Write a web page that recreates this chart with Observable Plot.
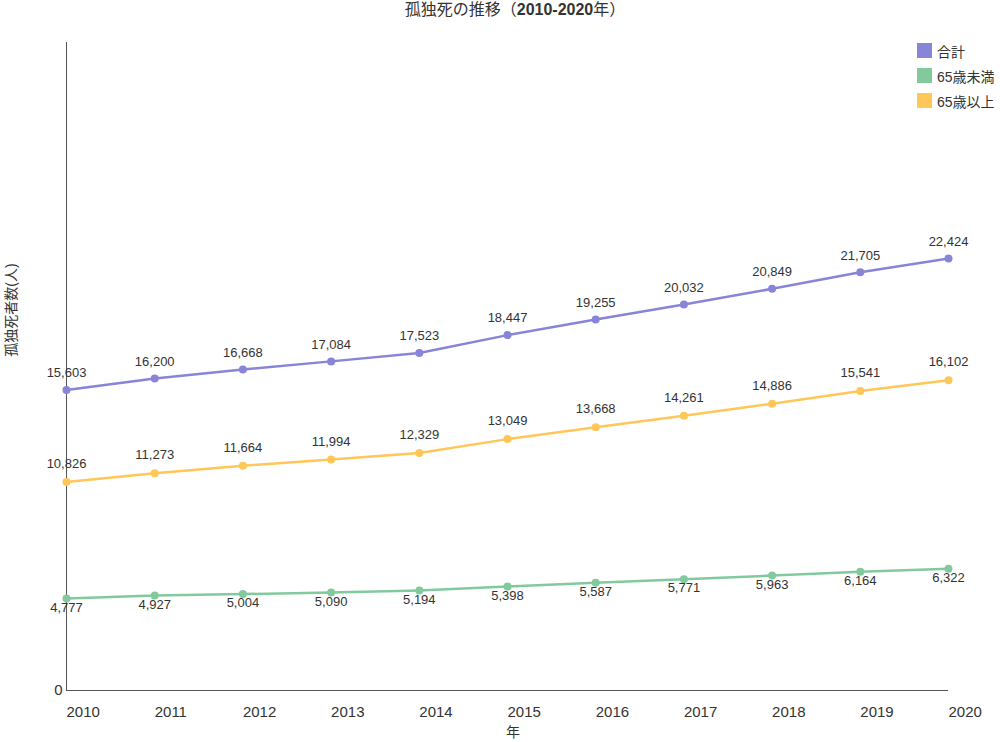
<!DOCTYPE html>
<html>
<head>
<meta charset="utf-8">
<script src="https://cdn.jsdelivr.net/npm/d3@7"></script>
<script src="https://cdn.jsdelivr.net/npm/@observablehq/plot@0.6"></script>
<style>
  html, body { margin: 0; padding: 0; background: #fff; }
  #wrap { position: relative; width: 1000px; height: 742px; font-family: "Liberation Sans", "Noto Sans CJK JP", sans-serif; color: #333; }
  #title { position: absolute; top: 0; left: 30px; width: 970px; text-align: center; font-size: 16px; line-height: 20px; color: #333; }
  #legend { position: absolute; left: 917px; top: 43px; font-size: 14px; color: #333; }
  #legend .row { display: flex; align-items: center; height: 15px; margin-bottom: 10px; white-space: nowrap; }
  #legend .sw { width: 15px; height: 15px; margin-right: 5px; }
  #ylabel { position: absolute; left: 10px; top: 310px; transform: translate(-50%, -50%) rotate(-90deg); font-size: 14px; white-space: nowrap; }
  #xlabel { position: absolute; left: 513px; top: 731px; transform: translate(-50%, -50%); font-size: 14px; }
  #chart { position: absolute; left: 0; top: 0; }
</style>
</head>
<body>
<div id="wrap">
  <div id="chart"></div>
  <div id="title">孤独死の推移（<b>2010-2020</b>年）</div>
  <div id="legend"></div>
  <div id="ylabel">孤独死者数(人)</div>
  <div id="xlabel">年</div>
</div>
<script>
// ---- data ----
const years = [2010, 2011, 2012, 2013, 2014, 2015, 2016, 2017, 2018, 2019, 2020];
const total = [15603, 16200, 16668, 17084, 17523, 18447, 19255, 20032, 20849, 21705, 22424];
const under65 = [4777, 4927, 5004, 5090, 5194, 5398, 5587, 5771, 5963, 6164, 6322];
const over65 = [10826, 11273, 11664, 11994, 12329, 13049, 13668, 14261, 14886, 15541, 16102];
const seriesNames = ["合計", "65歳未満", "65歳以上"];
const yTicks = [0];

// ---- styles ----
const colors = {"合計": "#8884d8", "65歳未満": "#82ca9d", "65歳以上": "#ffc658"};
const labelDy = {"合計": -17, "65歳未満": 9, "65歳以上": -18};

const seriesValues = {"合計": total, "65歳未満": under65, "65歳以上": over65};
const rows = seriesNames.flatMap(s => years.map((yr, i) => ({year: yr, value: seriesValues[s][i], series: s})));

const fmt = d3.format(",");
const yMax = d3.max(total) * 1.5;

const marks = [
  Plot.ruleX([years[0]], {stroke: "#555", strokeWidth: 1}),
  Plot.ruleY([0], {stroke: "#555", strokeWidth: 1}),
  Plot.axisX({ticks: years, tickFormat: "d", tickSize: 0, tickPadding: 16, textAnchor: "start", fontSize: 15, fill: "#333", label: null}),
  Plot.axisY({ticks: yTicks, tickSize: 0, tickPadding: 4, fontSize: 15, fill: "#333", label: null}),
];
for (const s of seriesNames) {
  const d = rows.filter(r => r.series === s);
  marks.push(Plot.line(d, {x: "year", y: "value", stroke: colors[s], strokeWidth: 2.5}));
  marks.push(Plot.dot(d, {x: "year", y: "value", fill: colors[s], r: 4}));
  marks.push(Plot.text(d, {x: "year", y: "value", text: r => fmt(r.value), dy: labelDy[s], fontSize: 13, fill: "#333"}));
}

const chart = Plot.plot({
  width: 1000,
  height: 742,
  marginLeft: 66,
  marginRight: 52,
  marginTop: 42,
  marginBottom: 52,
  style: {fontFamily: "'Liberation Sans', 'Noto Sans CJK JP', sans-serif", background: "#fff"},
  x: {type: "linear", domain: [years[0], years[years.length - 1]]},
  y: {type: "linear", domain: [0, yMax]},
  marks
});
document.getElementById("chart").appendChild(chart);

const legend = document.getElementById("legend");
for (const s of seriesNames) {
  const row = document.createElement("div");
  row.className = "row";
  const sw = document.createElement("div");
  sw.className = "sw";
  sw.style.background = colors[s];
  const t = document.createElement("span");
  t.textContent = s;
  row.appendChild(sw);
  row.appendChild(t);
  legend.appendChild(row);
}
</script>
</body>
</html>
